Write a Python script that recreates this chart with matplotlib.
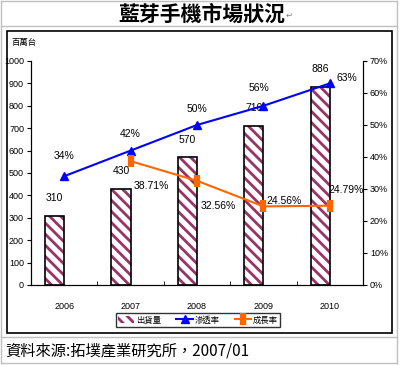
import matplotlib
matplotlib.use('Agg')
from matplotlib import pyplot as plt
from matplotlib.patches import Rectangle
from matplotlib.lines import Line2D

years = ["2006", "2007", "2008", "2009", "2010"]
shipments = [310, 430, 570, 710, 886]
penetration = [34, 42, 50, 56, 63]
growth_years = [1, 2, 3, 4]
growth = [38.71, 32.56, 24.56, 24.79]

pen_labels = ["34%", "42%", "50%", "56%", "63%"]
growth_labels = ["38.71%", "32.56%", "24.56%", "24.79%"]

NUM = ['Liberation Sans Narrow', 'Liberation Sans', 'DejaVu Sans']
CJK = ['Noto Sans CJK TC', 'DejaVu Sans']

plt.rcParams['font.family'] = NUM
plt.rcParams['hatch.linewidth'] = 2.0

fig = plt.figure(figsize=(4.03, 3.65), dpi=100)
W, H = 403, 365

def fx(px):
    return px / W

def fy(py):
    return 1 - py / H

# table lines (gray)
for y in [0.5, 26, 337, 363]:
    fig.add_artist(Line2D([fx(1), fx(397)], [fy(y), fy(y)], color='#c0c0c0', lw=1))
for x in [1, 397]:
    fig.add_artist(Line2D([fx(x), fx(x)], [fy(0.5), fy(363)], color='#c0c0c0', lw=1))

# chart frame
fig.add_artist(Rectangle((fx(7), fy(333)), fx(392) - fx(7), fy(31) - fy(333),
                         fill=False, edgecolor='black', lw=1.2))

fig.text(fx(202), fy(14), "藍芽手機市場狀況", family=CJK, fontsize=15,
         fontweight='bold', ha='center', va='center')
fig.text(fx(286), fy(15), "↵", family=['DejaVu Sans'], fontsize=6, color='gray',
         ha='left', va='center')
fig.text(fx(5), fy(351), "資料來源:拓墣產業研究所，2007/01", family=CJK, fontsize=11,
         ha='left', va='center')
fig.text(fx(12), fy(43), "百萬台", family=CJK, fontsize=6, ha='left', va='center')

ax = fig.add_axes([fx(31), fy(285), fx(363) - fx(31), fy(61) - fy(285)])
ax2 = ax.twinx()

xs = list(range(len(years)))
bx = [x - 0.145 for x in xs]
ax.bar(bx, shipments, width=0.29, color='white', edgecolor='#993366',
       hatch='\\\\\\', lw=0, zorder=2)
ax.bar(bx, shipments, width=0.29, fill=False, edgecolor='black', lw=1.2, zorder=3)
legend_bar = Rectangle((0, 0), 1, 1, facecolor='white', edgecolor='#993366',
                       hatch='\\\\\\', lw=0)
for x, v in zip(bx, shipments):
    ax.annotate(str(v), (x, v), xytext=(0, 9), textcoords='offset points',
                ha='center', va='bottom', fontsize=7.5)

ax.set_xlim(-0.5, 4.5)
ax.set_ylim(0, 1000)
ax.set_yticks(range(0, 1001, 100))
ax.set_xticks(xs)
ax.set_xticklabels(years)
ax.set_xticks([-0.5 + i for i in range(6)], minor=True)
ax.tick_params(axis='x', which='major', length=0, labelsize=6.5, pad=12)
ax.tick_params(axis='x', which='minor', length=3, direction='in')
ax.tick_params(axis='y', length=3, direction='out', labelsize=6.5, pad=2)
ax.spines['top'].set_visible(False)
ax2.spines['top'].set_visible(False)

ax2.set_ylim(0, 70)
ax2.set_yticks(range(0, 71, 10))
ax2.set_yticklabels([f"{v}%" for v in range(0, 71, 10)])
ax2.tick_params(axis='y', length=3, direction='out', labelsize=6.5, pad=2)

l1, = ax2.plot(xs, penetration, color='#0000ff', lw=1.5, marker='^', ms=6)
l2, = ax2.plot(growth_years, growth, color='#ff6600', lw=1.5, marker='|', ms=8, mew=4.5)

pen_off = [(0, 11), (0, 8), (0, 8), (-3, 9), (12, 0)]
for x, v, t, o in zip(xs, penetration, pen_labels, pen_off):
    ax2.annotate(t, (x, v), xytext=o, textcoords='offset points',
                 ha='center', va='bottom', fontsize=7.5)

gr_off = [(15, -18), (15, -18), (15, 4), (12, 11)]
for x, v, t, o in zip(growth_years, growth, growth_labels, gr_off):
    ax2.annotate(t, (x, v), xytext=o, textcoords='offset points',
                 ha='center', va='center', fontsize=7.5)

leg = fig.legend([legend_bar, l1, l2], ['出貨量', '滲透率', '成長率'], loc='center',
                 bbox_to_anchor=(fx(198), fy(320)), ncol=3,
                 prop={'family': CJK, 'size': 6}, frameon=True,
                 fancybox=False, edgecolor='black', borderpad=0.25,
                 handlelength=2.0, columnspacing=1.8, handletextpad=0.2,
                 handleheight=0.9)
leg.get_frame().set_linewidth(1)

fig.savefig("out.png", dpi=100)
